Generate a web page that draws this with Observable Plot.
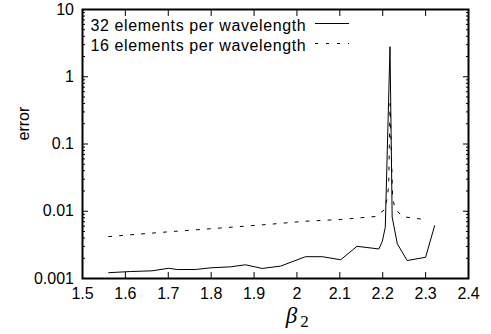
<!DOCTYPE html>
<html><head><meta charset="utf-8">
<script src="https://cdn.jsdelivr.net/npm/d3@7"></script>
<script src="https://cdn.jsdelivr.net/npm/@observablehq/plot@0.6"></script>
<style>
body{margin:0;background:#fff;}
#chart svg{display:block;}
</style>
</head><body><div id="chart"></div>
<script>
// Series: 32 elements per wavelength (solid)
const beta32 = [1.561, 1.612, 1.662, 1.701, 1.721, 1.763, 1.798, 1.845, 1.880, 1.919, 1.962, 2.020, 2.059, 2.102, 2.140, 2.191, 2.199, 2.206, 2.217, 2.222, 2.234, 2.257, 2.300, 2.321];
const err32  = [0.00122, 0.00127, 0.00130, 0.00142, 0.00136, 0.00136, 0.00144, 0.00149, 0.00160, 0.00141, 0.00153, 0.00211, 0.00211, 0.00190, 0.00301, 0.00275, 0.00355, 0.0058, 2.8, 0.0082, 0.00328, 0.00185, 0.00207, 0.0061];
// Series: 16 elements per wavelength (dashed)
const beta16 = [1.561, 1.612, 1.721, 1.830, 1.938, 2.020, 2.102, 2.183, 2.204, 2.210, 2.214, 2.217, 2.223, 2.228, 2.245, 2.272, 2.305];
const err16  = [0.0042, 0.00447, 0.00506, 0.00568, 0.00641, 0.00711, 0.00754, 0.00835, 0.0105, 0.0153, 0.024, 0.4, 0.0166, 0.0112, 0.00835, 0.00788, 0.00746];

const seriesNames = ["32 elements per wavelength", "16 elements per wavelength"];
const xTicks = [1.5, 1.6, 1.7, 1.8, 1.9, 2.0, 2.1, 2.2, 2.3, 2.4];
const xTickLabels = ["1.5", "1.6", "1.7", "1.8", "1.9", "2", "2.1", "2.2", "2.3", "2.4"];
const yTicks = [0.001, 0.01, 0.1, 1, 10];
const yTickLabels = ["0.001", "0.01", "0.1", "1", "10"];
const yLabel = "error";
const xLabel = "β";
const xLabelSub = "2";

const data32 = beta32.map((b, i) => ({beta: b, err: err32[i]}));
const data16 = beta16.map((b, i) => ({beta: b, err: err16[i]}));
const yMinor = [];
for (const d of [0.001, 0.01, 0.1, 1]) for (let k = 2; k <= 9; k++) yMinor.push(+(k * d).toPrecision(3));

const font = "'Liberation Sans', Arial, Helvetica, sans-serif";
const dash = "3,8";
const blank = () => "";

const plot = Plot.plot({
  width: 491,
  height: 334,
  marginLeft: 82,
  marginRight: 23,
  marginTop: 9,
  marginBottom: 56,
  style: {fontFamily: font, fontSize: "16px", color: "#000", background: "#fff"},
  x: {domain: [1.5, 2.4]},
  y: {type: "log", domain: [0.001, 10]},
  marks: [
    Plot.line(data16, {x: "beta", y: "err", stroke: "#000", strokeWidth: 1, strokeDasharray: dash}),
    Plot.line(data32, {x: "beta", y: "err", stroke: "#000", strokeWidth: 1}),
    // bottom axis labels
    Plot.axisX({ticks: xTicks, tickFormat: d => xTickLabels[xTicks.indexOf(d)], tickSize: 0, tickPadding: 9, label: null}),
    // inward ticks bottom/top
    Plot.axisX({anchor: "bottom", ticks: xTicks, tickFormat: blank, tickSize: -6, label: null}),
    Plot.axisX({anchor: "top", ticks: xTicks, tickFormat: blank, tickSize: -6, label: null}),
    // left axis labels
    Plot.axisY({ticks: yTicks, tickFormat: d => yTickLabels[yTicks.indexOf(d)], tickSize: 0, tickPadding: 8.5, label: null}),
    // inward ticks left/right, major and minor
    Plot.axisY({anchor: "left", ticks: yTicks, tickFormat: blank, tickSize: -6, label: null}),
    Plot.axisY({anchor: "right", ticks: yTicks, tickFormat: blank, tickSize: -6, label: null}),
    Plot.axisY({anchor: "left", ticks: yMinor, tickFormat: blank, tickSize: -3, label: null}),
    Plot.axisY({anchor: "right", ticks: yMinor, tickFormat: blank, tickSize: -3, label: null}),
    Plot.frame({stroke: "#000", strokeWidth: 2}),
    Plot.text([yLabel], {frameAnchor: "left", dx: -59, dy: -3.5, rotate: -90, fontSize: 16, fill: "#000", fontFamily: font}),
    Plot.text([xLabel], {frameAnchor: "bottom", dx: 16, dy: 44, fontSize: 23, fontStyle: "italic", fontFamily: "'Liberation Serif', 'DejaVu Serif', serif", fill: "#000"}),
    Plot.text([xLabelSub], {frameAnchor: "bottom", dx: 29, dy: 48, fontSize: 17, fontFamily: "'Liberation Serif', 'DejaVu Serif', serif", fill: "#000"})
  ]
});

// legend (inside the frame, top-left)
const svg = d3.select(plot);
const leg = svg.append("g")
  .attr("font-family", font).attr("font-size", 16).attr("fill", "#000")
  .attr("text-anchor", "start").style("text-anchor", "start").style("letter-spacing", "0.6px");
const legX = 90.5, legY0 = 31, legDY = 20;
seriesNames.forEach((name, i) => {
  leg.append("text").attr("x", legX).attr("y", legY0 + i * legDY).text(name);
  leg.append("line")
    .attr("x1", 315).attr("x2", 349)
    .attr("y1", legY0 - 7.5 + i * legDY).attr("y2", legY0 - 7.5 + i * legDY)
    .attr("stroke", "#000").attr("stroke-width", 1)
    .attr("stroke-dasharray", i === 1 ? dash : null);
});

document.getElementById("chart").appendChild(plot);
</script>
</body></html>
